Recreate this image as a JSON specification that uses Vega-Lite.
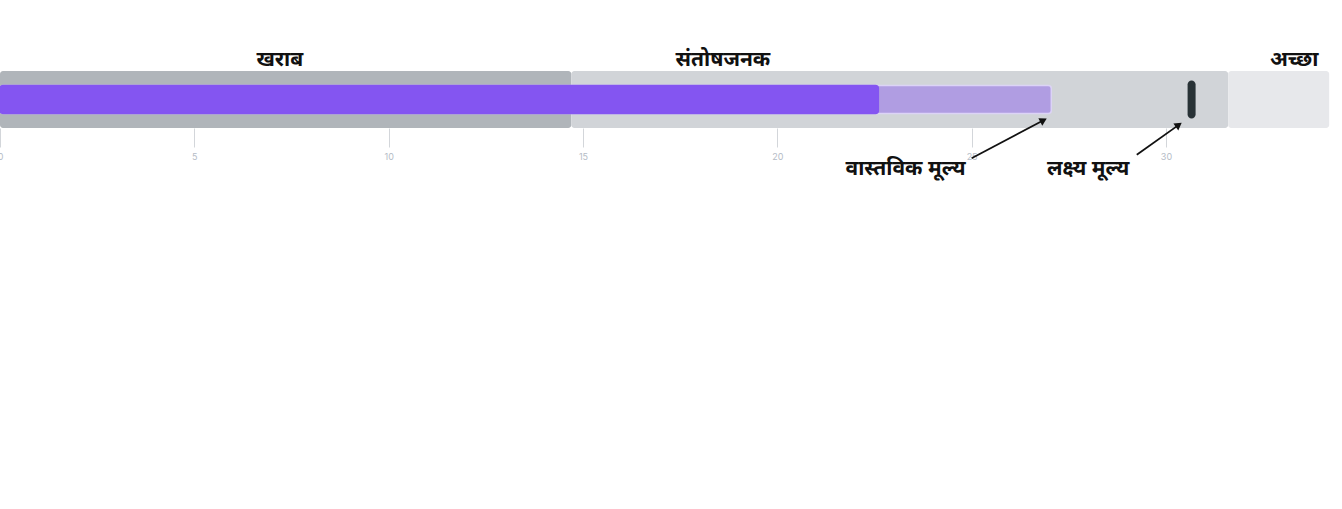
{
  "$schema": "https://vega.github.io/schema/vega-lite/v6.json",
  "autosize": {"type": "none"},
  "width": 1342,
  "height": 57,
  "padding": {"left": 0, "top": 71, "right": 0, "bottom": 381},
  "background": "white",
  "datasets": {
    "ranges": [
      {"band": "खराब", "start": 0, "end": 14.7, "label_at": 7.2},
      {"band": "संतोषजनक", "start": 14.7, "end": 31.6, "label_at": 18.6},
      {"band": "अच्छा", "start": 31.6, "end": 34.2, "label_at": 33.3}
    ],
    "measures": [
      {"measure": "projected", "start": 0, "value": 27.05},
      {"measure": "actual", "start": 0, "value": 22.6}
    ],
    "target": [{"value": 30.66}],
    "notes": [
      {"label": "वास्तविक मूल्य", "text_x": 23.3, "text_y": -0.72, "from_x": 25.0, "from_y": -0.53, "to_x": 26.85, "to_y": 0.135},
      {"label": "लक्ष्य मूल्य", "text_x": 28.0, "text_y": -0.72, "from_x": 29.25, "from_y": -0.47, "to_x": 30.33, "to_y": 0.055}
    ]
  },
  "layer": [
    {
      "data": {"name": "ranges"},
      "mark": {"type": "bar", "size": 57, "cornerRadius": 3},
      "encoding": {
        "x": {
          "field": "start",
          "type": "quantitative",
          "scale": {"domain": [0, 34.53], "nice": false, "zero": false, "padding": 0},
          "axis": {
            "values": [0, 5, 10, 15, 20, 25, 30],
            "title": null,
            "domain": false,
            "grid": false,
            "tickSize": 19,
            "tickColor": "#d3d6da",
            "tickWidth": 1,
            "labelColor": "#b5bcc6",
            "labelFontSize": 9,
            "labelPadding": 5,
            "labelFlush": false,
            "labelFont": "Inter"
          }
        },
        "x2": {"field": "end"},
        "y": {"datum": 0.5, "type": "quantitative", "scale": {"domain": [0, 1], "padding": 0}, "axis": null},
        "color": {
          "field": "band",
          "type": "nominal",
          "scale": {"domain": ["खराब", "संतोषजनक", "अच्छा"], "range": ["#b0b5ba", "#d1d4d8", "#e7e8eb"]},
          "legend": null
        }
      }
    },
    {
      "data": {"name": "ranges"},
      "mark": {"type": "text", "font": "Noto Sans", "fontSize": 21, "fontWeight": "bold", "color": "#111111", "baseline": "middle"},
      "encoding": {
        "x": {"field": "label_at", "type": "quantitative"},
        "y": {"datum": 1.19, "type": "quantitative"},
        "text": {"field": "band"}
      }
    },
    {
      "data": {"name": "measures"},
      "mark": {"type": "bar", "size": 28, "cornerRadius": 3, "strokeWidth": 1.5},
      "encoding": {
        "x": {"field": "start", "type": "quantitative"},
        "x2": {"field": "value"},
        "y": {"datum": 0.5, "type": "quantitative"},
        "fill": {
          "field": "measure",
          "type": "nominal",
          "scale": {"domain": ["projected", "actual"], "range": ["#b09de2", "#8455f1"]},
          "legend": null
        },
        "stroke": {
          "field": "measure",
          "type": "nominal",
          "scale": {"domain": ["projected", "actual"], "range": ["#dcd3f6", "#8455f1"]},
          "legend": null
        }
      }
    },
    {
      "data": {"name": "target"},
      "mark": {"type": "tick", "orient": "vertical", "size": 38, "thickness": 8, "cornerRadius": 4, "color": "#283236", "opacity": 1},
      "encoding": {
        "x": {"field": "value", "type": "quantitative"},
        "y": {"datum": 0.5, "type": "quantitative"}
      }
    },
    {
      "data": {"name": "notes"},
      "mark": {"type": "rule", "color": "#111111", "strokeWidth": 1.8},
      "encoding": {
        "x": {"field": "from_x", "type": "quantitative"},
        "x2": {"field": "to_x"},
        "y": {"field": "from_y", "type": "quantitative"},
        "y2": {"field": "to_y"}
      }
    },
    {
      "data": {"name": "notes"},
      "mark": {"type": "point", "shape": "triangle-up", "filled": true, "size": 70, "color": "#111111", "opacity": 1},
      "encoding": {
        "x": {"field": "to_x", "type": "quantitative"},
        "y": {"field": "to_y", "type": "quantitative"},
        "angle": {
          "field": "label",
          "type": "nominal",
          "scale": {"domain": ["वास्तविक मूल्य", "लक्ष्य मूल्य"], "range": [62, 54]},
          "legend": null
        }
      }
    },
    {
      "data": {"name": "notes"},
      "mark": {"type": "text", "font": "Noto Sans", "fontSize": 21, "fontWeight": "bold", "color": "#111111", "baseline": "middle"},
      "encoding": {
        "x": {"field": "text_x", "type": "quantitative"},
        "y": {"field": "text_y", "type": "quantitative"},
        "text": {"field": "label"}
      }
    }
  ],
  "resolve": {"scale": {"color": "independent", "fill": "independent", "stroke": "independent"}},
  "config": {
    "view": {"stroke": null},
    "scale": {"continuousPadding": 0}
  }
}
